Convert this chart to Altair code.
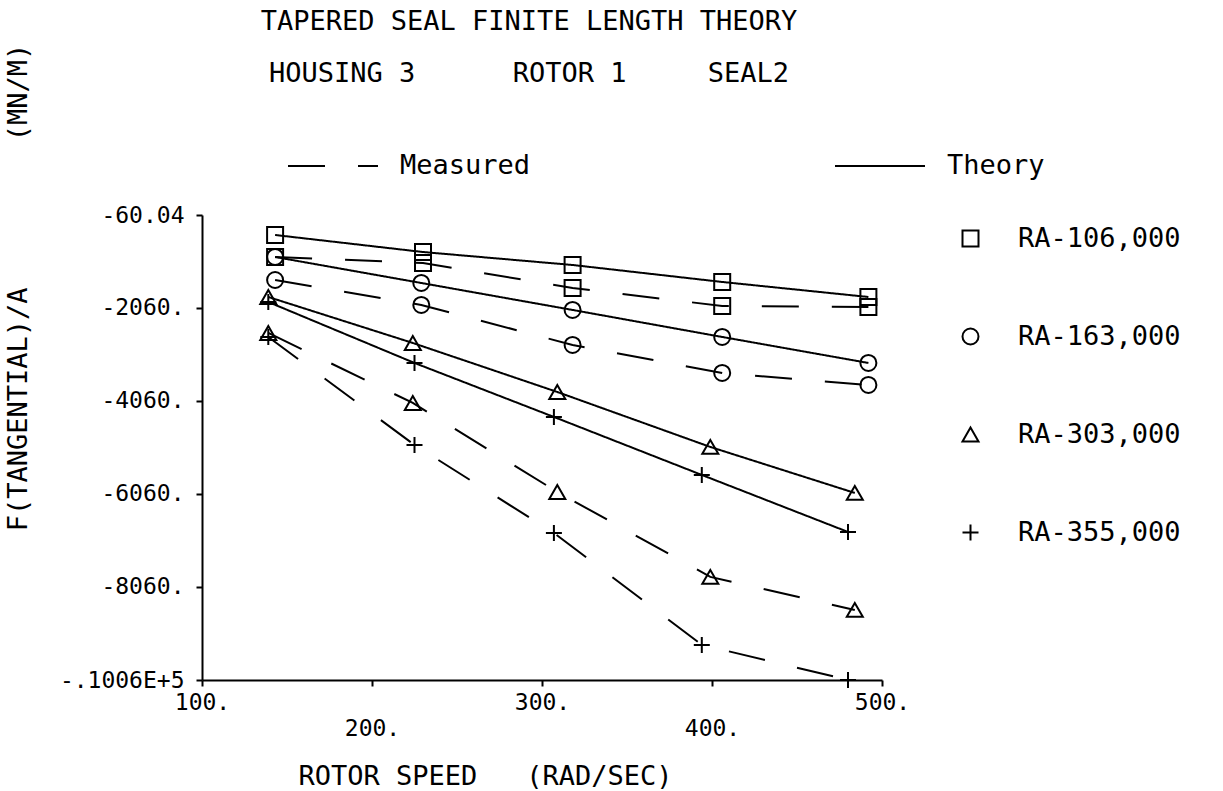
import altair as alt
import pandas as pd

FONT = "DejaVu Sans Mono"
NB = "\u00a0"

series = ["RA-106,000", "RA-163,000", "RA-303,000", "RA-355,000"]
kinds = ["Measured", "Theory"]

speed_106 = [143, 230, 318, 406, 492]
speed_163 = [143, 229, 318, 406, 492]
speed_303 = [139, 224, 309, 399, 484]
speed_355 = [139, 225, 307, 394, 480]

theory_106 = [-490, -856, -1135, -1500, -1823]
measured_106 = [-963, -1092, -1630, -2017, -2038]
theory_163 = [-963, -1522, -2102, -2683, -3242]
measured_163 = [-1458, -1995, -2855, -3457, -3715]
theory_303 = [-1823, -2812, -3866, -5048, -6037]
measured_303 = [-2597, -4102, -6016, -7843, -8553]
theory_355 = [-1931, -3242, -4403, -5650, -6876]
measured_355 = [-2683, -5005, -6897, -9305, -10058]

x_ticks = [100, 200, 300, 400, 500]
y_ticks = [-60.04, -2060, -4060, -6060, -8060, -10060]
y_tick_labels = ["-60.04", "-2060.", "-4060.", "-6060.", "-8060.", "-.1006E+5"]

speeds = [speed_106, speed_163, speed_303, speed_355]
theories = [theory_106, theory_163, theory_303, theory_355]
measureds = [measured_106, measured_163, measured_303, measured_355]

rows = []
for s, sp, th, me in zip(series, speeds, theories, measureds):
    for x, t, m in zip(sp, th, me):
        rows.append({"series": s, "speed": x, "kind": "Theory", "force": t})
        rows.append({"series": s, "speed": x, "kind": "Measured", "force": m})
df = pd.DataFrame(rows)

y_label_expr = "[" + ",".join("'" + l + "'" for l in y_tick_labels) + "][round((-60.04 - datum.value) / 2000)]"
x_label_expr = "(datum.value / 100) % 2 == 0 ? ['', datum.value + '.'] : datum.value + '.'"

x_enc = alt.X(
    "speed:Q",
    scale=alt.Scale(domain=[100, 500], nice=False, zero=False),
    axis=alt.Axis(
        values=x_ticks,
        labelExpr=x_label_expr,
        labelLineHeight=26,
        labelPadding=5,
        labelFlush=False,
        title="ROTOR SPEED" + NB * 3 + "(RAD/SEC)",
        titleX=283,
        titleY=96,
        titleAlign="center",
        titleBaseline="middle",
    ),
)
y_enc = alt.Y(
    "force:Q",
    scale=alt.Scale(domain=[-10060, -60.04], nice=False, zero=False),
    axis=alt.Axis(
        values=y_ticks,
        labelExpr=y_label_expr,
        labelPadding=12,
        labelFlush=False,
        title="F(TANGENTIAL)/A" + NB * 9 + "(MN/M)",
        titleAngle=270,
        titleX=-184,
        titleY=72,
        titleAlign="center",
        titleBaseline="middle",
    ),
)

lines = alt.Chart(df).mark_line(color="black", strokeWidth=2).encode(
    x=x_enc,
    y=y_enc,
    detail="series:N",
    strokeDash=alt.StrokeDash(
        "kind:N",
        scale=alt.Scale(domain=kinds, range=[[37, 33], [1, 0]]),
        legend=alt.Legend(
            title=None,
            orient="none",
            legendX=85,
            legendY=-95,
            direction="horizontal",
            columns=2,
            padding=0,
            symbolType="stroke",
            symbolSize=8100,
            symbolStrokeWidth=2,
            symbolStrokeColor="black",
            labelFont=FONT,
            labelFontSize=27,
            labelColor="black",
            labelOffset=21,
            labelLimit=0,
            columnPadding=300,
        ),
    ),
)

points = alt.Chart(df).mark_point(color="black", strokeWidth=2, filled=False, opacity=1).encode(
    x=x_enc,
    y=y_enc,
    shape=alt.Shape(
        "series:N",
        scale=alt.Scale(domain=series, range=["square", "circle", "triangle-up", "M-1,0L1,0M0,-1L0,1"]),
        legend=alt.Legend(
            title=None,
            orient="none",
            legendX=755,
            legendY=10,
            direction="vertical",
            padding=0,
            symbolSize=256,
            symbolStrokeWidth=2,
            symbolStrokeColor="black",
            symbolFillColor="transparent",
            labelFont=FONT,
            labelFontSize=27,
            labelColor="black",
            labelOffset=34,
            labelLimit=0,
            rowPadding=70,
        ),
    ),
    size=alt.value(256),
)

chart = (
    alt.layer(lines, points)
    .properties(
        width=680,
        height=465,
        background="white",
        autosize=alt.AutoSizeParams(type="none"),
        padding={"left": 202, "top": 215, "right": 341, "bottom": 111},
        title=alt.TitleParams(
            text=[
                "TAPERED SEAL FINITE LENGTH THEORY",
                "HOUSING 3" + NB * 6 + "ROTOR 1" + NB * 5 + "SEAL2",
            ],
            font=FONT,
            fontSize=27,
            fontWeight="normal",
            color="black",
            lineHeight=52,
            anchor="middle",
            frame="group",
            dx=-13,
            offset=-45,
        ),
    )
    .configure_view(stroke=None)
    .configure_axis(
        grid=False,
        domainColor="black",
        domainWidth=2,
        tickColor="black",
        tickWidth=2,
        tickSize=6,
        labelColor="black",
        labelFont=FONT,
        labelFontSize=23,
        titleColor="black",
        titleFont=FONT,
        titleFontSize=27,
        titleFontWeight="normal",
    )
)

chart.save("out.html", embed_options={"renderer": "svg", "actions": False})
